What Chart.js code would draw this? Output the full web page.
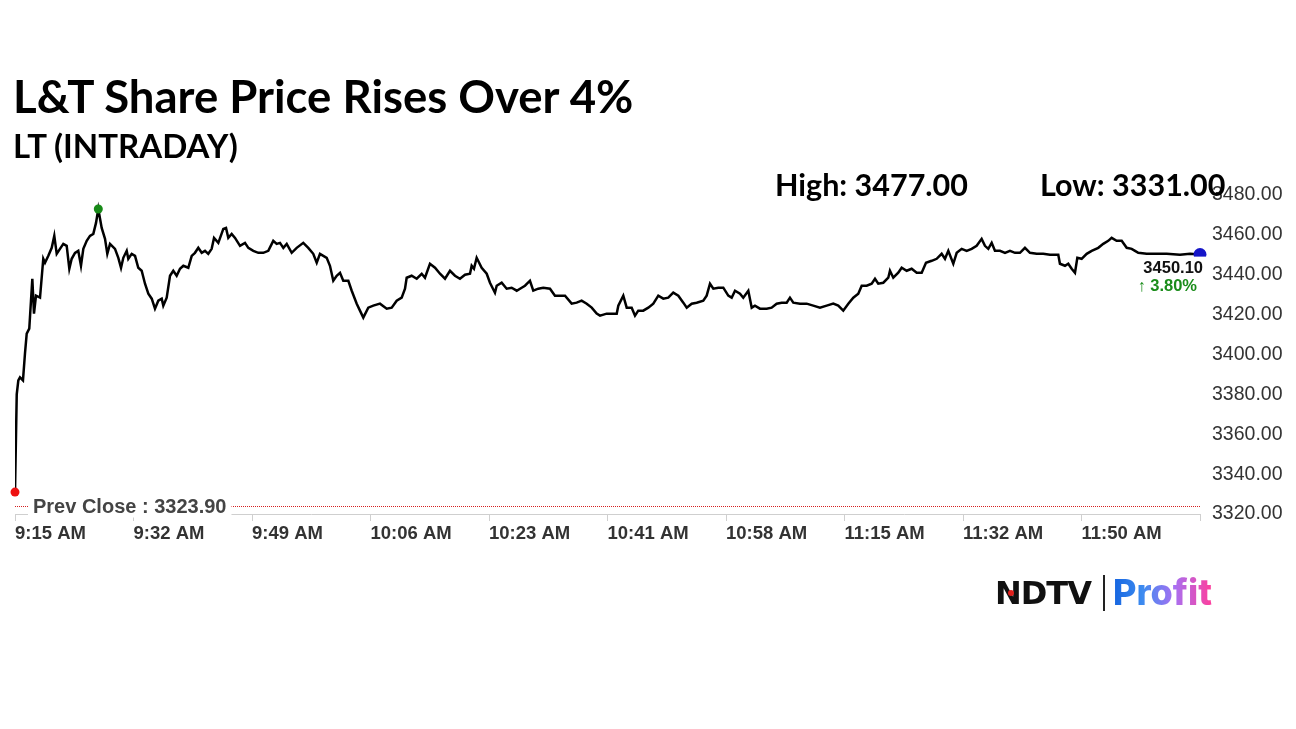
<!DOCTYPE html>
<html><head><meta charset="utf-8">
<script src="https://cdn.jsdelivr.net/npm/chart.js@4/dist/chart.umd.min.js"></script>
<style>
html,body{margin:0;padding:0;background:#fff;width:1296px;height:729px;overflow:hidden;}
#wrap{position:relative;width:1296px;height:729px;}
#c{position:absolute;left:0;top:0;}
.t{position:absolute;font-family:Lato,'Open Sans',sans-serif;font-weight:700;color:#000;white-space:nowrap;line-height:1;}
#title{left:13px;top:73px;font-size:45.5px;}
#sub{left:13px;top:129px;font-size:33px;}
#high{left:775px;top:169px;font-size:30.5px;}
#low{left:1040px;top:169px;font-size:30.5px;}
#ndtv{position:absolute;left:995px;top:577px;font-family:'DejaVu Sans',sans-serif;font-weight:900;font-size:32px;line-height:32px;color:#111;letter-spacing:-1px;}
#dot{position:absolute;left:1008px;top:590px;width:6px;height:6px;border-radius:3px;background:#e0201c;}
#bar{position:absolute;left:1103px;top:575px;width:2px;height:36px;background:#222;}
#profit{position:absolute;left:1113px;top:572px;font-family:Inter,'Open Sans',sans-serif;font-weight:800;font-size:36px;line-height:40px;background:linear-gradient(90deg,#1565e0 0%,#3d8bf0 30%,#a870f2 62%,#ff3e9c 100%);-webkit-background-clip:text;background-clip:text;color:transparent;}
</style></head>
<body><div id="wrap">
<canvas id="c" width="1296" height="729"></canvas>
<div class="t" id="title">L&amp;T Share Price Rises Over 4%</div>
<div class="t" id="sub">LT (INTRADAY)</div>
<div class="t" id="high">High: 3477.00</div>
<div class="t" id="low">Low: 3331.00</div>
<div id="ndtv">NDTV</div><div id="dot"></div><div id="bar"></div><div id="profit">Profit</div>
</div>
<script>
// minutes after 9:15 AM
const minutes = [0,0.25,0.48,0.72,1.15,1.44,1.69,2.06,2.5,2.74,3.03,3.61,4.08,4.33,4.81,5.3,5.67,6.02,6.49,6.97,7.46,7.84,8.18,8.66,9.13,9.52,9.86,10.35,10.82,11.3,11.69,12.02,12.51,12.99,13.32,13.71,14.43,14.91,15.3,15.63,16.12,16.35,16.84,17.32,17.79,18.28,18.76,19.24,19.73,20.2,20.68,21.17,21.4,21.89,22.37,22.84,23.33,23.81,24.29,25.01,25.5,25.97,26.45,26.94,27.42,27.89,28.38,28.72,29.34,30.06,30.45,30.78,31.27,31.75,32.47,33.19,33.67,34.39,35.11,35.83,36.55,37.27,37.76,38.24,38.72,39.21,39.93,40.65,41.6,42.32,43.04,43.54,44.01,44.98,45.45,45.93,46.42,46.9,47.37,48.1,48.59,49.31,49.78,50.26,50.98,51.7,52.67,53.64,54.36,55.08,55.8,56.28,56.52,57.24,57.97,58.69,59.16,59.88,60.61,61.33,62.05,62.77,63.49,64.21,64.94,65.66,65.9,66.23,66.62,67.34,68.07,68.54,69.26,69.51,70.23,70.95,71.67,72.4,73.12,73.59,74.31,74.79,75.51,76.23,77.2,77.92,78.64,79.37,80.33,81.05,81.77,82.5,83.22,83.94,84.42,85.38,86.83,87.06,87.78,88.27,88.99,89.47,89.94,90.66,91.39,92.11,92.83,93.55,94.27,94.99,95.72,96.44,96.93,97.65,98.37,99.32,99.81,100.29,100.77,101.49,102.21,102.93,103.42,103.9,104.62,105.09,105.82,106.31,106.78,107.5,108.47,109.19,109.91,110.63,111.36,111.83,112.31,113.28,114.24,115.19,116.16,117.13,118.08,118.8,119.52,120.25,120.97,121.69,122.18,122.9,123.62,124.1,124.57,125.3,126.02,126.26,126.74,127.46,127.95,128.67,129.39,130.12,130.84,131.46,132.28,133.0,133.72,134.2,134.68,135.4,135.89,136.61,137.33,138.05,138.77,139.49,139.97,140.45,140.94,141.41,142.14,142.86,143.58,144.3,145.02,145.74,146.46,147.43,148.38,149.35,150.55,150.79,151.52,151.99,152.48,152.96,153.3,153.92,154.65,155.37,156.32,157.04,157.76,158.25,158.97,159.7,160.42,161.14,161.62,162.09,163.3,166.19,168.11,169.55,171.0];
const prices = [3331,3380,3387,3388.5,3387,3400.5,3410.5,3413,3438,3420.5,3429.5,3428.5,3448,3446,3449.5,3453.5,3459.5,3450.5,3453,3455.5,3454.5,3443,3448,3451,3452,3444.5,3453,3457,3459.5,3460.5,3466,3473,3463.5,3458,3450.5,3455.5,3453,3448.5,3443.5,3448.5,3452,3448,3450.5,3449.5,3443.5,3442,3435.5,3430.5,3428,3423,3427,3428,3424.5,3428.5,3439.5,3442,3439.5,3443,3444.5,3443.5,3449.5,3451,3453.5,3451,3452,3450.5,3453,3458.5,3456,3463,3463.5,3458.5,3460.5,3458.5,3454.5,3456,3453.5,3452,3451,3451,3452,3457,3455.5,3456,3453.5,3455.5,3451,3453.5,3456,3453.5,3450.5,3446,3450.5,3448.5,3444.5,3437,3439.5,3441,3437,3437,3432,3425.5,3422,3418.5,3423.5,3424.5,3425.5,3423,3423.5,3427,3428.5,3433,3438.5,3439.5,3438,3440.5,3438.5,3445.5,3443.5,3440.5,3438,3442,3439.5,3438,3440,3440.5,3444.5,3443,3448.5,3443.5,3440.5,3436,3431,3434.5,3436,3433,3433.5,3432,3433.5,3434.5,3437,3432,3433,3433.5,3433,3429.5,3429.5,3429.5,3425.5,3426,3427,3425.5,3423.5,3420.5,3419.5,3420.5,3420.5,3424.5,3429.5,3423.5,3423.5,3419.5,3422,3422,3423.5,3425.5,3429.5,3428,3428.5,3431,3429.5,3426,3423.5,3425.5,3426,3427,3429.5,3435.5,3433,3433.5,3433.5,3429.5,3428.5,3432,3430.5,3428.5,3432,3423.5,3424.5,3423,3423,3423.5,3425.5,3426,3426,3428.5,3426,3425.5,3425.5,3424.5,3423.5,3424.5,3425.5,3424.5,3422,3425.5,3428.5,3430.5,3434.5,3434.5,3435.5,3438,3435.5,3436,3438.5,3442,3438.5,3441,3443.5,3442,3443,3441,3441,3446,3447,3448,3450.5,3448,3452,3445.5,3451,3453,3452,3453,3454.5,3458,3454.5,3453,3456,3452,3452,3451,3452,3451,3451,3453.5,3451,3450.5,3450.5,3450,3450,3445.5,3444.5,3445.5,3443,3441,3448.5,3448,3450.5,3452,3453.5,3455.5,3457,3458.5,3457,3457,3453.5,3453,3452,3451,3450.5,3450.5,3450,3450.5,3450.1];
const tickMinutes = [0,17.1,34.2,51.3,68.4,85.5,102.6,119.7,136.8,153.9,171];
const tickLabels = ['9:15 AM','9:32 AM','9:49 AM','10:06 AM','10:23 AM','10:41 AM','10:58 AM','11:15 AM','11:32 AM','11:50 AM',''];
const yMin = 3320, yMax = 3480, yStep = 20;
const prevClose = 3323.90;
const lastPrice = 3450.10;
const changePct = 3.80;

const pts = minutes.map((m,i)=>({x:m,y:prices[i]}));
let hi=0, lo=0;
prices.forEach((p,i)=>{ if(p>prices[hi]) hi=i; if(p<prices[lo]) lo=i; });
const last = prices.length-1;

const overlay = {
  id:'overlay',
  beforeDatasetsDraw(chart){
    const {ctx, chartArea:a, scales:{y}} = chart;
    const py = Math.round(y.getPixelForValue(prevClose))+0.5;
    ctx.save();
    ctx.strokeStyle='#d42020'; ctx.lineWidth=1; ctx.setLineDash([1,1]);
    ctx.beginPath(); ctx.moveTo(a.left, py); ctx.lineTo(a.right, py); ctx.stroke();
    ctx.setLineDash([]);
    ctx.font='bold 20px "Liberation Sans", Arial, sans-serif';
    const txt='Prev Close : '+prevClose.toFixed(2);
    const w=ctx.measureText(txt).width;
    const lx=a.left+18;
    ctx.fillStyle='#fff'; ctx.fillRect(lx-5, py-11, w+10, 22);
    ctx.fillStyle='#444'; ctx.textBaseline='middle'; ctx.textAlign='left';
    ctx.fillText(txt, lx, py+1);
    ctx.restore();
  },
  afterDatasetsDraw(chart){
    const {ctx, scales:{x,y}} = chart;
    const lx = x.getPixelForValue(minutes[last]), ly = y.getPixelForValue(prices[last]);
    ctx.save();
    ctx.fillStyle='#fff'; ctx.fillRect(lx-62, ly+2, 70, 41);
    ctx.textAlign='right'; ctx.textBaseline='middle';
    ctx.font='bold 16.5px "Liberation Sans", Arial, sans-serif';
    ctx.fillStyle='#111'; ctx.fillText(lastPrice.toFixed(2), lx+3, ly+14);
    ctx.fillStyle='#1a8c1a'; ctx.fillText('\u2191 '+changePct.toFixed(2)+'%', lx-3, ly+32);
    ctx.restore();
  }
};

new Chart(document.getElementById('c'), {
  type:'line',
  data:{datasets:[
    {data:[pts[hi]], type:'scatter', pointRadius:4.5, pointBackgroundColor:'#178a17', pointBorderWidth:0, clip:false},
    {data:[pts[lo]], type:'scatter', pointRadius:4.5, pointBackgroundColor:'#ee1111', pointBorderWidth:0, clip:false},
    {data:[pts[last]], type:'scatter', pointRadius:6.5, pointBackgroundColor:'#1515c8', pointBorderWidth:0, clip:false},
    {data:pts, borderColor:'#000', borderWidth:2.5, pointRadius:0, tension:0, fill:false}
  ]},
  options:{
    responsive:false, animation:false, events:[],
    layout:{padding:{left:15, top:195, right:0, bottom:0}},
    plugins:{legend:{display:false}, tooltip:{enabled:false}},
    scales:{
      x:{type:'linear', min:0, max:171,
        afterBuildTicks:(s)=>{ s.ticks = tickMinutes.map(v=>({value:v})); },
        afterFit:(s)=>{ s.height = 215; },
        grid:{display:true, drawOnChartArea:false, drawTicks:true, tickLength:7, color:'#cfcfcf'},
        border:{display:true, color:'#cfcfcf'},
        ticks:{align:'start', padding:2, maxRotation:0, autoSkip:false, color:'#333',
          font:{family:'"Liberation Sans", Arial, sans-serif', size:18.5, weight:'bold'},
          callback:(v,i)=>tickLabels[i]}
      },
      y:{position:'right', min:yMin, max:yMax,
        afterFit:(s)=>{ s.width = 96; },
        grid:{display:false, drawTicks:false},
        border:{display:false},
        ticks:{stepSize:yStep, padding:12, color:'#333',
          font:{family:'"Liberation Sans", Arial, sans-serif', size:19.5},
          callback:(v)=>Number(v).toFixed(2)}
      }
    }
  },
  plugins:[overlay]
});
</script>
</body></html>
